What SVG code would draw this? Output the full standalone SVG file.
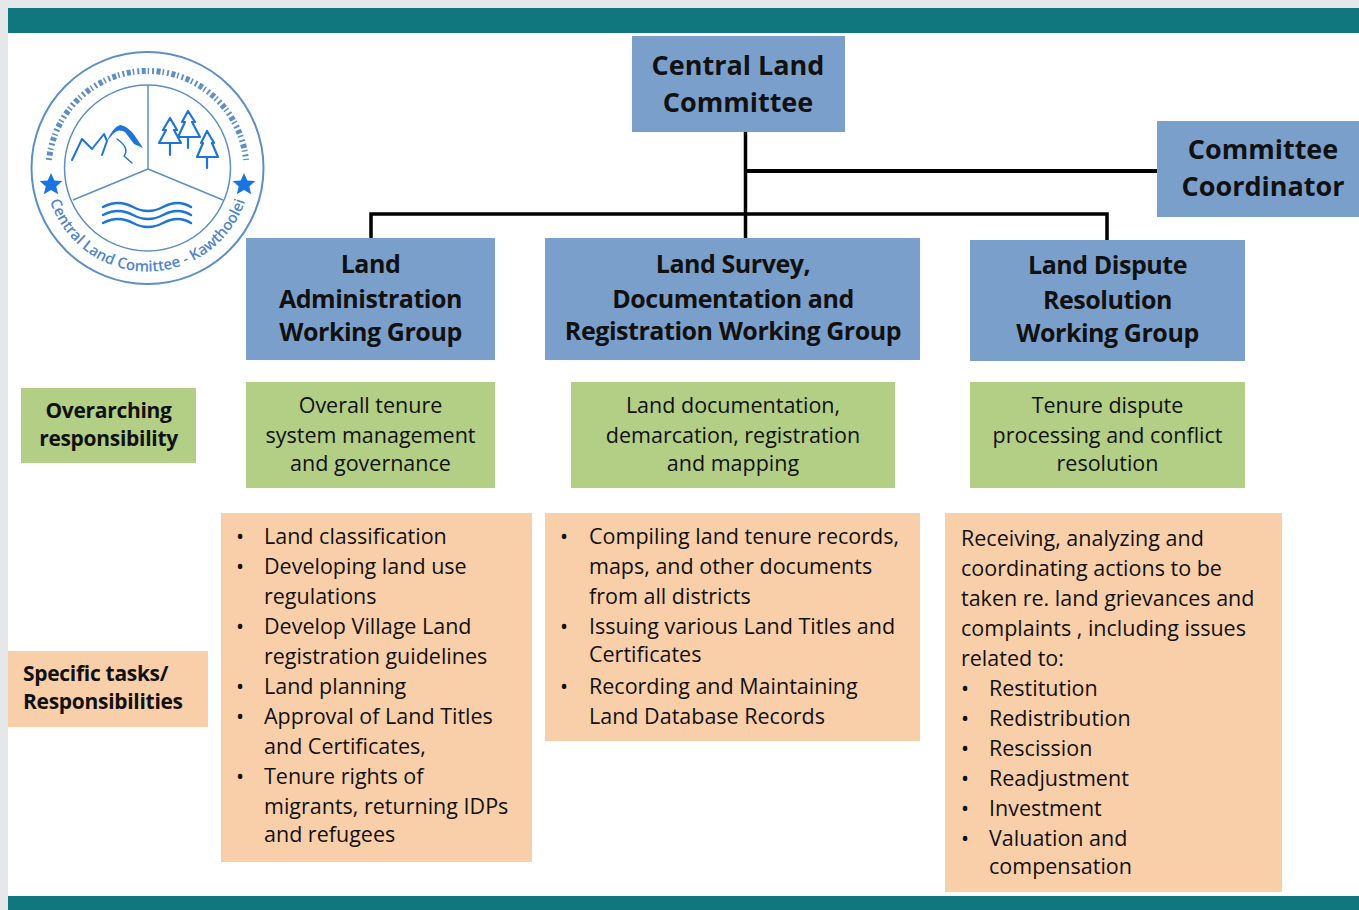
<svg xmlns="http://www.w3.org/2000/svg" width="1359" height="910" viewBox="0 0 1359 910">
<style>
.blue{fill:#7b9fcb}.green{fill:#b3ce85}.orange{fill:#f9cfa9}
text{font-family:"Open Sans","Noto Sans","Liberation Sans",sans-serif;fill:#111}
.h{font-size:27px;font-weight:700;text-anchor:middle}
.h2{font-size:25px;font-weight:700;text-anchor:middle;letter-spacing:-.45px}
.g{text-anchor:middle;font-size:21.5px}
.gb{font-size:21px;font-weight:700;text-anchor:middle;letter-spacing:-.3px}
.b{font-size:21.5px}
.con{stroke:#000;fill:none}
.lg{fill:none;stroke:#5d8fc4}
.lb{fill:none;stroke:#1f74d8;stroke-linejoin:round;stroke-linecap:round}
.st{fill:#1874e0}
.lt{font-size:15px;fill:#4f86c6;font-weight:600;text-anchor:middle}
</style>
<defs>
<path id="arcB" d="M46 186A103 103 0 0 0 249 186"/>
</defs>
<rect width="1359" height="910" fill="#e6e7e9"/>
<rect x="8" y="8" width="1351" height="902" fill="#fff"/>
<rect x="8" y="8" width="1351" height="25" fill="#10777e"/>
<rect x="8" y="896" width="1351" height="14" fill="#10777e"/>
<g id="logo">
<circle class="lg" cx="147.500" cy="168" r="116" stroke-width="2"/>
<circle class="lg" cx="147.500" cy="168" r="83" stroke-width="1.500"/>
<path class="lg" stroke-width="1.500" d="M148 85V169M148 169L73 200M148 169L223 200"/>
<path fill="none" stroke="#5d8fc4" stroke-width="6" stroke-dasharray="2 2.500 4 2 1.500 3" d="M49 160A99 99 0 0 1 246 160"/>
<path class="st" d="M51 173l3.300 7.500 8 .6-6 5.300 1.900 7.900-7.200-4.200-7.200 4.200 1.900-7.900-6-5.300 8-.6z"/>
<path class="st" d="M244 173l3.300 7.500 8 .6-6 5.300 1.900 7.900-7.200-4.200-7.200 4.200 1.900-7.900-6-5.300 8-.6z"/>
<path class="lb" stroke-width="2" d="M72 160L82 139L92 149L104 134L107 141L102 155"/>
<path fill="#1f74d8" d="M107 141Q113 127 120 125Q128 126 135 136L143 148L134 144L125 132Q118 128 113 134z"/>
<path class="lb" stroke-width="1.500" d="M117 139Q130 148 124 156L132 163"/>
<path class="lb" stroke-width="2.200" d="M170 118L163 130L166 130L159 143H181L174 130L177 130zM170 143V155M188 111L182 122L185 122L178 137H200L192 122L195 122zM188 137V148M207 131L201 143L203 143L197 157H218L212 143L214 143zM207 157V168"/>
<path class="lb" stroke-width="2.500" d="M103 207q15-8 30 0t30 0t28 0M103 215q15-8 30 0t30 0t28 0M103 223q15-8 30 0t30 0t28 0"/>
<text class="lt"><textPath href="#arcB" startOffset="50%">Central Land Comittee - Kawthoolei</textPath></text>
</g>
<g id="connectors">
<path class="con" stroke-width="3.500" d="M745.500 132V238"/>
<path class="con" stroke-width="4" d="M745 171H1157"/>
<path class="con" stroke-width="3.500" d="M371 238V214H1107V240"/>
</g>
<g id="central-land-committee"><rect class="blue" x="632" y="36" width="213" height="96"/><text class="h"><tspan x="738" y="75">Central Land</tspan><tspan x="738" y="112">Committee</tspan></text></g>
<g id="committee-coordinator"><rect class="blue" x="1157" y="121" width="202" height="96"/><text class="h"><tspan x="1263" y="159">Committee</tspan><tspan x="1263" y="196">Coordinator</tspan></text></g>
<g id="land-admin"><rect class="blue" x="246" y="238" width="249" height="122"/><text class="h2"><tspan x="370.500" y="273">Land</tspan><tspan x="370.500" y="308">Administration</tspan><tspan x="370.500" y="341">Working Group</tspan></text></g>
<g id="land-survey"><rect class="blue" x="545" y="238" width="375" height="122"/><text class="h2"><tspan x="733" y="273">Land Survey,</tspan><tspan x="733" y="308">Documentation and</tspan><tspan x="733" y="340">Registration Working Group</tspan></text></g>
<g id="land-dispute"><rect class="blue" x="970" y="240" width="275" height="121"/><text class="h2"><tspan x="1107.500" y="274">Land Dispute</tspan><tspan x="1107.500" y="309">Resolution</tspan><tspan x="1107.500" y="342">Working Group</tspan></text></g>
<g id="overarching"><rect class="green" x="21" y="388" width="175" height="75"/><text class="gb"><tspan x="108.500" y="418">Overarching</tspan><tspan x="108.500" y="446">responsibility</tspan></text></g>
<g id="resp-admin"><rect class="green" x="246" y="382" width="249" height="106"/><text class="g"><tspan x="370.500" y="413">Overall tenure</tspan><tspan x="370.500" y="443">system management</tspan><tspan x="370.500" y="471">and governance</tspan></text></g>
<g id="resp-survey"><rect class="green" x="571" y="382" width="324" height="106"/><text class="g"><tspan x="733" y="413">Land documentation,</tspan><tspan x="733" y="443">demarcation, registration</tspan><tspan x="733" y="471">and mapping</tspan></text></g>
<g id="resp-dispute"><rect class="green" x="970" y="382" width="275" height="106"/><text class="g"><tspan x="1107.500" y="413">Tenure dispute</tspan><tspan x="1107.500" y="443">processing and conflict</tspan><tspan x="1107.500" y="471">resolution</tspan></text></g>
<g id="specific"><rect class="orange" x="8" y="651" width="200" height="76"/><text class="gb" style="text-anchor:start"><tspan x="23" y="681">Specific tasks/</tspan><tspan x="23" y="709">Responsibilities</tspan></text></g>
<g id="tasks-admin"><rect class="orange" x="221" y="513" width="311" height="349"/><text class="b">
<tspan x="236" y="544">•</tspan><tspan x="264" y="544">Land classification</tspan>
<tspan x="236" y="574">•</tspan><tspan x="264" y="574">Developing land use</tspan>
<tspan x="264" y="604">regulations</tspan>
<tspan x="236" y="634">•</tspan><tspan x="264" y="634">Develop Village Land</tspan>
<tspan x="264" y="664">registration guidelines</tspan>
<tspan x="236" y="694">•</tspan><tspan x="264" y="694">Land planning</tspan>
<tspan x="236" y="724">•</tspan><tspan x="264" y="724">Approval of Land Titles</tspan>
<tspan x="264" y="754">and Certificates,</tspan>
<tspan x="236" y="784">•</tspan><tspan x="264" y="784">Tenure rights of</tspan>
<tspan x="264" y="814">migrants, returning IDPs</tspan>
<tspan x="264" y="842">and refugees</tspan></text></g>
<g id="tasks-survey"><rect class="orange" x="545" y="513" width="375" height="228"/><text class="b">
<tspan x="560" y="544">•</tspan><tspan x="589" y="544">Compiling land tenure records,</tspan>
<tspan x="589" y="574">maps, and other documents</tspan>
<tspan x="589" y="604">from all districts</tspan>
<tspan x="560" y="634">•</tspan><tspan x="589" y="634">Issuing various Land Titles and</tspan>
<tspan x="589" y="662">Certificates</tspan>
<tspan x="560" y="694">•</tspan><tspan x="589" y="694">Recording and Maintaining</tspan>
<tspan x="589" y="724">Land Database Records</tspan></text></g>
<g id="tasks-dispute"><rect class="orange" x="945" y="513" width="337" height="379"/><text class="b">
<tspan x="961" y="546">Receiving, analyzing and</tspan>
<tspan x="961" y="576">coordinating actions to be</tspan>
<tspan x="961" y="606">taken re. land grievances and</tspan>
<tspan x="961" y="636">complaints , including issues</tspan>
<tspan x="961" y="666">related to:</tspan>
<tspan x="961" y="696">•</tspan><tspan x="989" y="696">Restitution</tspan>
<tspan x="961" y="726">•</tspan><tspan x="989" y="726">Redistribution</tspan>
<tspan x="961" y="756">•</tspan><tspan x="989" y="756">Rescission</tspan>
<tspan x="961" y="786">•</tspan><tspan x="989" y="786">Readjustment</tspan>
<tspan x="961" y="816">•</tspan><tspan x="989" y="816">Investment</tspan>
<tspan x="961" y="846">•</tspan><tspan x="989" y="846">Valuation and</tspan>
<tspan x="989" y="874">compensation</tspan></text></g>
</svg>
